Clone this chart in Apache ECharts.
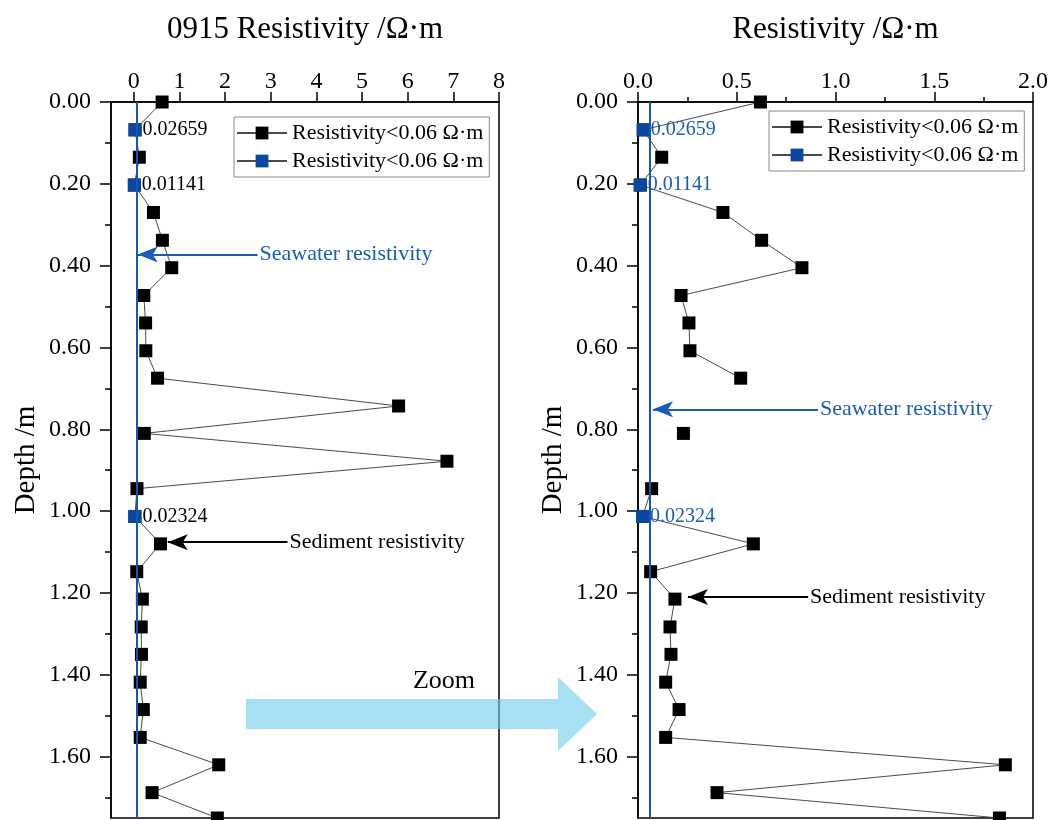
<!DOCTYPE html>
<html>
<head>
<meta charset="utf-8">
<script src="https://cdn.jsdelivr.net/npm/echarts@6/dist/echarts.min.js"></script>
<style>
html, body { margin: 0; padding: 0; background: #fff; }
#chart { width: 1057px; height: 820px; }
</style>
</head>
<body>
<div id="chart"></div>
<script>
// Core sample 0915: resistivity profile against depth
const depth = [0, 0.068, 0.135, 0.203, 0.27, 0.338, 0.405, 0.473, 0.54, 0.608, 0.675, 0.743, 0.81, 0.878,
  0.945, 1.013, 1.08, 1.148, 1.215, 1.283, 1.35, 1.418, 1.485, 1.553, 1.62, 1.688, 1.75];
const resistivity = [0.62, 0.02659, 0.12, 0.01141, 0.43, 0.626, 0.83, 0.218, 0.258, 0.263, 0.52, 5.8, 0.23, 6.86,
  0.069, 0.02324, 0.584, 0.064, 0.187, 0.162, 0.167, 0.14, 0.208, 0.14, 1.86, 0.40, 1.83];

// Samples below the seawater threshold
const lowDepth = [0.068, 0.203, 1.013];
const lowRes = [0.02659, 0.01141, 0.02324];
const seawaterLimit = 0.06;

// Tick positions
const depthTicks = [0, 0.2, 0.4, 0.6, 0.8, 1.0, 1.2, 1.4, 1.6];
const depthMinorTicks = [0.1, 0.3, 0.5, 0.7, 0.9, 1.1, 1.3, 1.5, 1.7];
const fullTicks = [0, 1, 2, 3, 4, 5, 6, 7, 8];

// Text
const fullTitle = '0915 Resistivity /Ω·m';
const zoomTitle = 'Resistivity /Ω·m';
const depthTitle = 'Depth /m';
const legendText = 'Resistivity<0.06 Ω·m';
const seawaterText = 'Seawater resistivity';
const sedimentText = 'Sediment resistivity';
const zoomText = 'Zoom';

// Annotation arrows in data units: [text-side x, arrow-tip x, depth]
const fullSeawaterArrow = [2.71, 0.087, 0.373];
const fullSedimentArrow = [3.366, 0.743, 1.076];
const zoomSeawaterArrow = [0.911, 0.076, 0.751];
const zoomSedimentArrow = [0.861, 0.253, 1.21];

const FONT = "'Liberation Serif', 'Times New Roman', serif";
const BLUE_MARK = '#0b47a1';
const BLUE_LINE = '#1558b0';
const BLUE_TEXT = '#1a5cb5';
const LINE_GREY = '#4a4a4a';

const chart = echarts.init(document.getElementById('chart'));

const grids = [
  { left: 111, top: 102, width: 388, height: 716 },
  { left: 638, top: 102, width: 395, height: 716 }
];

// Points beyond the panel's resistivity range become gaps, so their segments are dropped
function profileData(maxX) {
  return depth.map((d, i) => (resistivity[i] > maxX ? ['-', '-'] : [resistivity[i], d]));
}
function lowData() {
  const out = [];
  lowDepth.forEach((d, i) => {
    if (i > 0) out.push(['-', '-']);
    out.push([lowRes[i], d]);
  });
  return out;
}
function arrowLine(a, color, text) {
  return [
    {
      coord: [a[0], a[2]],
      lineStyle: { color: color, width: 2, type: 'solid' },
      label: { show: true, position: 'start', distance: 2, formatter: text, color: color, fontSize: 22, fontFamily: FONT }
    },
    { coord: [a[1], a[2]], symbol: 'arrow', symbolSize: [12, 20] }
  ];
}

function yAxes(g) {
  return [
    {
      gridIndex: g, type: 'value', position: 'left', inverse: true, min: 0, max: 1.75,
      name: depthTitle, nameLocation: 'middle', nameGap: 70,
      nameTextStyle: { fontSize: 29, fontFamily: FONT, color: '#000' },
      axisLine: { show: true, onZero: false, lineStyle: { color: '#000', width: 1.5 } },
      axisTick: { show: true, length: 11, customValues: depthTicks, lineStyle: { color: '#000', width: 1.5 } },
      axisLabel: { customValues: depthTicks, margin: 20, fontSize: 24, fontFamily: FONT, color: '#000',
        formatter: v => Number(v).toFixed(2) },
      splitLine: { show: false }
    },
    {
      gridIndex: g, type: 'value', position: 'left', inverse: true, min: 0, max: 1.75,
      axisLine: { show: false, onZero: false },
      axisTick: { show: true, length: 6, customValues: depthMinorTicks, lineStyle: { color: '#000', width: 1.5 } },
      axisLabel: { show: false },
      splitLine: { show: false }
    }
  ];
}

function panelSeries(g, maxX, names, labelColor, seaArrow, sedArrow) {
  return [
    {
      name: names[0], type: 'line', xAxisIndex: g, yAxisIndex: g * 2,
      data: profileData(maxX), connectNulls: false,
      symbol: 'rect', symbolSize: 13,
      itemStyle: { color: '#000' },
      lineStyle: { color: LINE_GREY, width: 1 },
      z: 2, animation: false
    },
    {
      name: names[1], type: 'line', xAxisIndex: g, yAxisIndex: g * 2,
      data: lowData(), connectNulls: false,
      symbol: 'rect', symbolSize: 13,
      itemStyle: { color: BLUE_MARK },
      lineStyle: { color: LINE_GREY, width: 1 },
      label: { show: true, position: 'right', distance: 1, color: labelColor, fontSize: 20, fontFamily: FONT,
        formatter: p => String(p.value[0]) },
      z: 3, animation: false,
      markLine: {
        silent: true, animation: false, symbol: 'none',
        data: [
          { xAxis: seawaterLimit, lineStyle: { color: BLUE_LINE, width: 2, type: 'solid' }, label: { show: false } },
          arrowLine(seaArrow, BLUE_TEXT, seawaterText),
          arrowLine(sedArrow, '#000', sedimentText)
        ]
      }
    }
  ];
}

function legendFor(names, left, top) {
  return {
    data: names, left: left, top: top, orient: 'vertical',
    itemGap: 6, itemWidth: 50, itemHeight: 16,
    padding: [5, 6, 5, 2],
    borderColor: '#8a8a8a', borderWidth: 1,
    selectedMode: false,
    textStyle: { fontSize: 22, fontFamily: FONT, color: '#000' },
    formatter: () => legendText
  };
}

const fullNames = ['Profile 0915', 'Below 0.06 (0915)'];
const zoomNames = ['Profile 0915 detail', 'Below 0.06 (detail)'];
const fullMax = 8;
const zoomMax = 2;

const option = {
  backgroundColor: '#fff',
  animation: false,
  grid: grids.map(g => Object.assign({ show: true, borderColor: '#000', borderWidth: 1.5, containLabel: false }, g)),
  xAxis: [
    {
      gridIndex: 0, type: 'value', position: 'top', min: -0.5, max: fullMax,
      name: fullTitle, nameLocation: 'middle', nameGap: 57,
      nameTextStyle: { fontSize: 31, fontFamily: FONT, color: '#000' },
      axisLine: { show: true, onZero: false, lineStyle: { color: '#000', width: 1.5 } },
      axisTick: { show: true, length: 10, customValues: fullTicks, lineStyle: { color: '#000', width: 1.5 } },
      axisLabel: { customValues: fullTicks, margin: 8, fontSize: 24, fontFamily: FONT, color: '#000' },
      splitLine: { show: false }
    },
    {
      gridIndex: 1, type: 'value', position: 'top', min: 0, max: zoomMax, interval: 0.5,
      name: zoomTitle, nameLocation: 'middle', nameGap: 57,
      nameTextStyle: { fontSize: 31, fontFamily: FONT, color: '#000' },
      axisLine: { show: true, onZero: false, lineStyle: { color: '#000', width: 1.5 } },
      axisTick: { show: true, length: 10, lineStyle: { color: '#000', width: 1.5 } },
      minorTick: { show: true, splitNumber: 2, length: 5, lineStyle: { color: '#000', width: 1.5 } },
      axisLabel: { margin: 8, fontSize: 24, fontFamily: FONT, color: '#000', formatter: v => Number(v).toFixed(1) },
      splitLine: { show: false }
    }
  ],
  yAxis: yAxes(0).concat(yAxes(1)),
  legend: [legendFor(fullNames, 234, 117), legendFor(zoomNames, 769, 111)],
  series: panelSeries(0, fullMax, fullNames, '#000', fullSeawaterArrow, fullSedimentArrow)
    .concat(panelSeries(1, zoomMax, zoomNames, BLUE_TEXT, zoomSeawaterArrow, zoomSedimentArrow)),
  graphic: [
    {
      type: 'polygon', z: 50,
      shape: { points: [[246, 699], [558, 699], [558, 677], [597, 714], [558, 751], [558, 729], [246, 729]] },
      style: { fill: 'rgba(110,203,235,0.6)' }
    },
    {
      type: 'text', z: 50, x: 444, y: 681,
      style: { text: zoomText, fontSize: 26, fontFamily: FONT, fill: '#000', align: 'center', verticalAlign: 'middle' }
    }
  ]
};

chart.setOption(option);
</script>
</body>
</html>
